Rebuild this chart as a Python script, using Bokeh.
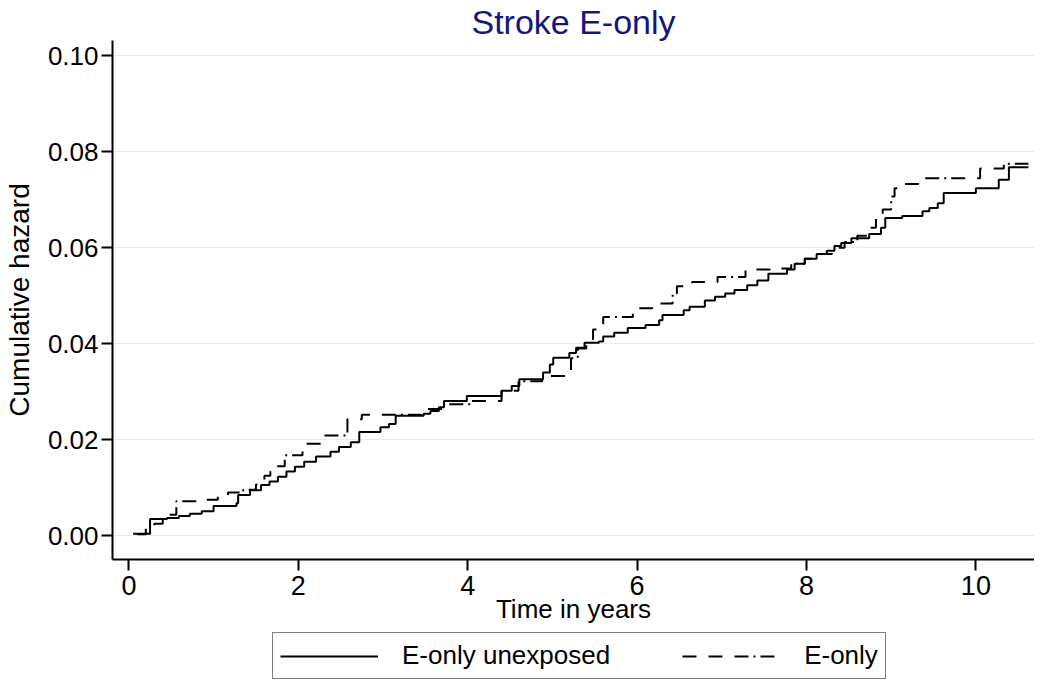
from bokeh.plotting import figure
from bokeh.layouts import column
from bokeh.models import Range1d, FixedTicker, Legend, LegendItem
from bokeh.embed import file_html
from bokeh.resources import INLINE

# ---- data ----
title_text = "Stroke E-only"
x_label = "Time in years"
y_label = "Cumulative hazard"
series_names = ["E-only unexposed", "E-only"]

x_ticks = [0, 2, 4, 6, 8, 10]
y_ticks = [0.00, 0.02, 0.04, 0.06, 0.08, 0.10]
y_tick_labels = ["0.00", "0.02", "0.04", "0.06", "0.08", "0.10"]

unexp_t = [0.05, 0.25, 0.45, 0.59, 0.72, 0.86, 1.00, 1.27, 1.29, 1.43, 1.56, 1.66, 1.76, 1.86,
           1.96, 2.07, 2.21, 2.38, 2.48, 2.62, 2.72, 2.97, 3.07, 3.15, 3.48, 3.56, 3.66, 3.72,
           3.99, 4.40, 4.52, 4.61, 4.89, 4.97, 5.01, 5.20, 5.28, 5.38, 5.55, 5.60, 5.73, 5.89,
           6.10, 6.26, 6.30, 6.55, 6.62, 6.80, 6.92, 7.04, 7.15, 7.30, 7.42, 7.55, 7.77, 7.86,
           7.98, 8.12, 8.24, 8.33, 8.41, 8.53, 8.74, 8.88, 8.93, 9.13, 9.37, 9.45, 9.55, 9.62,
           10.00, 10.27, 10.39, 10.62]
unexp_h = [0.0004, 0.0035, 0.0037, 0.0041, 0.0046, 0.0051, 0.0062, 0.0068, 0.0085, 0.0095,
           0.0106, 0.0113, 0.0123, 0.0134, 0.0144, 0.0154, 0.0165, 0.0175, 0.0185, 0.0195,
           0.0216, 0.0226, 0.0233, 0.0250, 0.0254, 0.0260, 0.0268, 0.0281, 0.0291, 0.0302,
           0.0312, 0.0326, 0.0340, 0.0357, 0.0371, 0.0381, 0.0392, 0.0402, 0.0405, 0.0415,
           0.0423, 0.0433, 0.0439, 0.0449, 0.0460, 0.0470, 0.0477, 0.0490, 0.0498, 0.0505,
           0.0512, 0.0522, 0.0532, 0.0546, 0.0555, 0.0567, 0.0577, 0.0587, 0.0594, 0.0604,
           0.0610, 0.0620, 0.0629, 0.0642, 0.0662, 0.0666, 0.0676, 0.0683, 0.0693, 0.0714,
           0.0724, 0.0742, 0.0768, 0.0768]

eonly_t = [0.10, 0.20, 0.30, 0.40, 0.56, 0.86, 1.05, 1.17, 1.35, 1.50, 1.60, 1.67, 1.84, 2.05,
           2.30, 2.58, 2.75, 3.45, 3.75, 4.05, 4.40, 4.60, 4.88, 5.15, 5.22, 5.30, 5.40, 5.48,
           5.60, 5.95, 6.18, 6.42, 6.47, 6.65, 6.95, 7.28, 7.62, 7.82, 7.98, 8.12, 8.30, 8.45,
           8.60, 8.72, 8.82, 8.90, 9.00, 9.04, 9.12, 9.32, 10.05, 10.33, 10.62]
eonly_h = [0.0003, 0.0015, 0.0025, 0.0044, 0.0072, 0.0075, 0.0085, 0.0090, 0.0096, 0.0107,
           0.0125, 0.0145, 0.0168, 0.0192, 0.0209, 0.0243, 0.0252, 0.0264, 0.0274, 0.0281,
           0.0302, 0.0322, 0.0333, 0.0345, 0.0370, 0.0390, 0.0410, 0.0430, 0.0456, 0.0474,
           0.0484, 0.0505, 0.0520, 0.0529, 0.0539, 0.0555, 0.0557, 0.0567, 0.0577, 0.0587,
           0.0600, 0.0612, 0.0625, 0.0642, 0.0666, 0.0680, 0.0707, 0.0724, 0.0733, 0.0745,
           0.0765, 0.0775, 0.0775]

FONT = "Liberation Sans"
DASH = "14 12 14 12 14 5 2 5"

xr = Range1d(-0.1935, 10.692)
yr = Range1d(-0.00494, 0.10319)

# ---- main plot ----
p_main = figure(width=1034, height=632, output_backend="svg", toolbar_location=None,
                x_range=xr, y_range=yr,
                min_border_left=106, min_border_right=0, min_border_top=34,
                min_border_bottom=73, title=title_text)
p_main.outline_line_color = None
p_main.background_fill_color = "white"
p_main.border_fill_color = "white"

p_main.title.text_font = FONT
p_main.title.text_font_size = "34px"
p_main.title.text_font_style = "normal"
p_main.title.text_color = "#16167a"
p_main.title.align = "center"
p_main.title.standoff = 0
p_main.title.offset = 0

p_main.step(unexp_t, unexp_h, mode="after", line_color="black", line_width=2)
p_main.step(eonly_t, eonly_h, mode="after", line_color="black", line_width=2, line_dash=DASH)

for ax in (p_main.xaxis[0], p_main.yaxis[0]):
    ax.axis_line_width = 2
    ax.axis_line_color = "black"
    ax.major_tick_line_width = 2
    ax.major_tick_line_color = "black"
    ax.major_tick_out = 11
    ax.major_tick_in = 0
    ax.minor_tick_line_color = None
    ax.major_label_text_font = FONT
    ax.major_label_text_color = "black"
    ax.axis_label_text_font = FONT
    ax.axis_label_text_font_style = "normal"
    ax.axis_label_text_color = "black"

p_main.xaxis[0].ticker = FixedTicker(ticks=x_ticks)
p_main.xaxis[0].axis_label = x_label
p_main.xaxis[0].major_label_text_font_size = "27px"
p_main.xaxis[0].axis_label_text_font_size = "26px"
p_main.xaxis[0].major_label_standoff = 5
p_main.xaxis[0].axis_label_standoff = -4

p_main.yaxis[0].ticker = FixedTicker(ticks=y_ticks)
p_main.yaxis[0].major_label_overrides = {t: s for t, s in zip(y_ticks, y_tick_labels)}
p_main.yaxis[0].axis_label = y_label
p_main.yaxis[0].major_label_text_font_size = "26px"
p_main.yaxis[0].axis_label_text_font_size = "28px"
p_main.yaxis[0].major_label_standoff = 3
p_main.yaxis[0].axis_label_standoff = 10

p_main.xgrid.grid_line_color = None
p_main.ygrid.ticker = FixedTicker(ticks=y_ticks)
p_main.ygrid.grid_line_color = "#e2eeee"
p_main.ygrid.grid_line_width = 1

# ---- legend strip below the plot ----
p_leg = figure(width=1034, height=48, output_backend="svg", toolbar_location=None,
               x_range=xr, y_range=yr, x_axis_location=None, y_axis_location=None,
               min_border_left=0, min_border_right=0, min_border_top=0, min_border_bottom=0)
p_leg.outline_line_color = None
p_leg.grid.visible = False
p_leg.background_fill_color = "white"
p_leg.border_fill_color = "white"
lr1 = p_leg.step(unexp_t, unexp_h, mode="after", line_color="black", line_width=2, visible=False)
lr2 = p_leg.step(eonly_t, eonly_h, mode="after", line_color="black", line_width=2,
                 line_dash=DASH, visible=False)

legend = Legend(items=[LegendItem(label=series_names[0], renderers=[lr1]),
                       LegendItem(label=series_names[1], renderers=[lr2])],
                orientation="horizontal", location=(160, 1),
                border_line_color="black", border_line_width=1.5,
                padding=7, spacing=72, glyph_width=98, label_standoff=24,
                label_text_font=FONT, label_text_font_size="26px",
                label_text_color="black", margin=0,
                inactive_fill_alpha=0.0)
p_leg.add_layout(legend)

p = column(p_main, p_leg, spacing=0)

open("out.html", "w").write(file_html(p, INLINE))
